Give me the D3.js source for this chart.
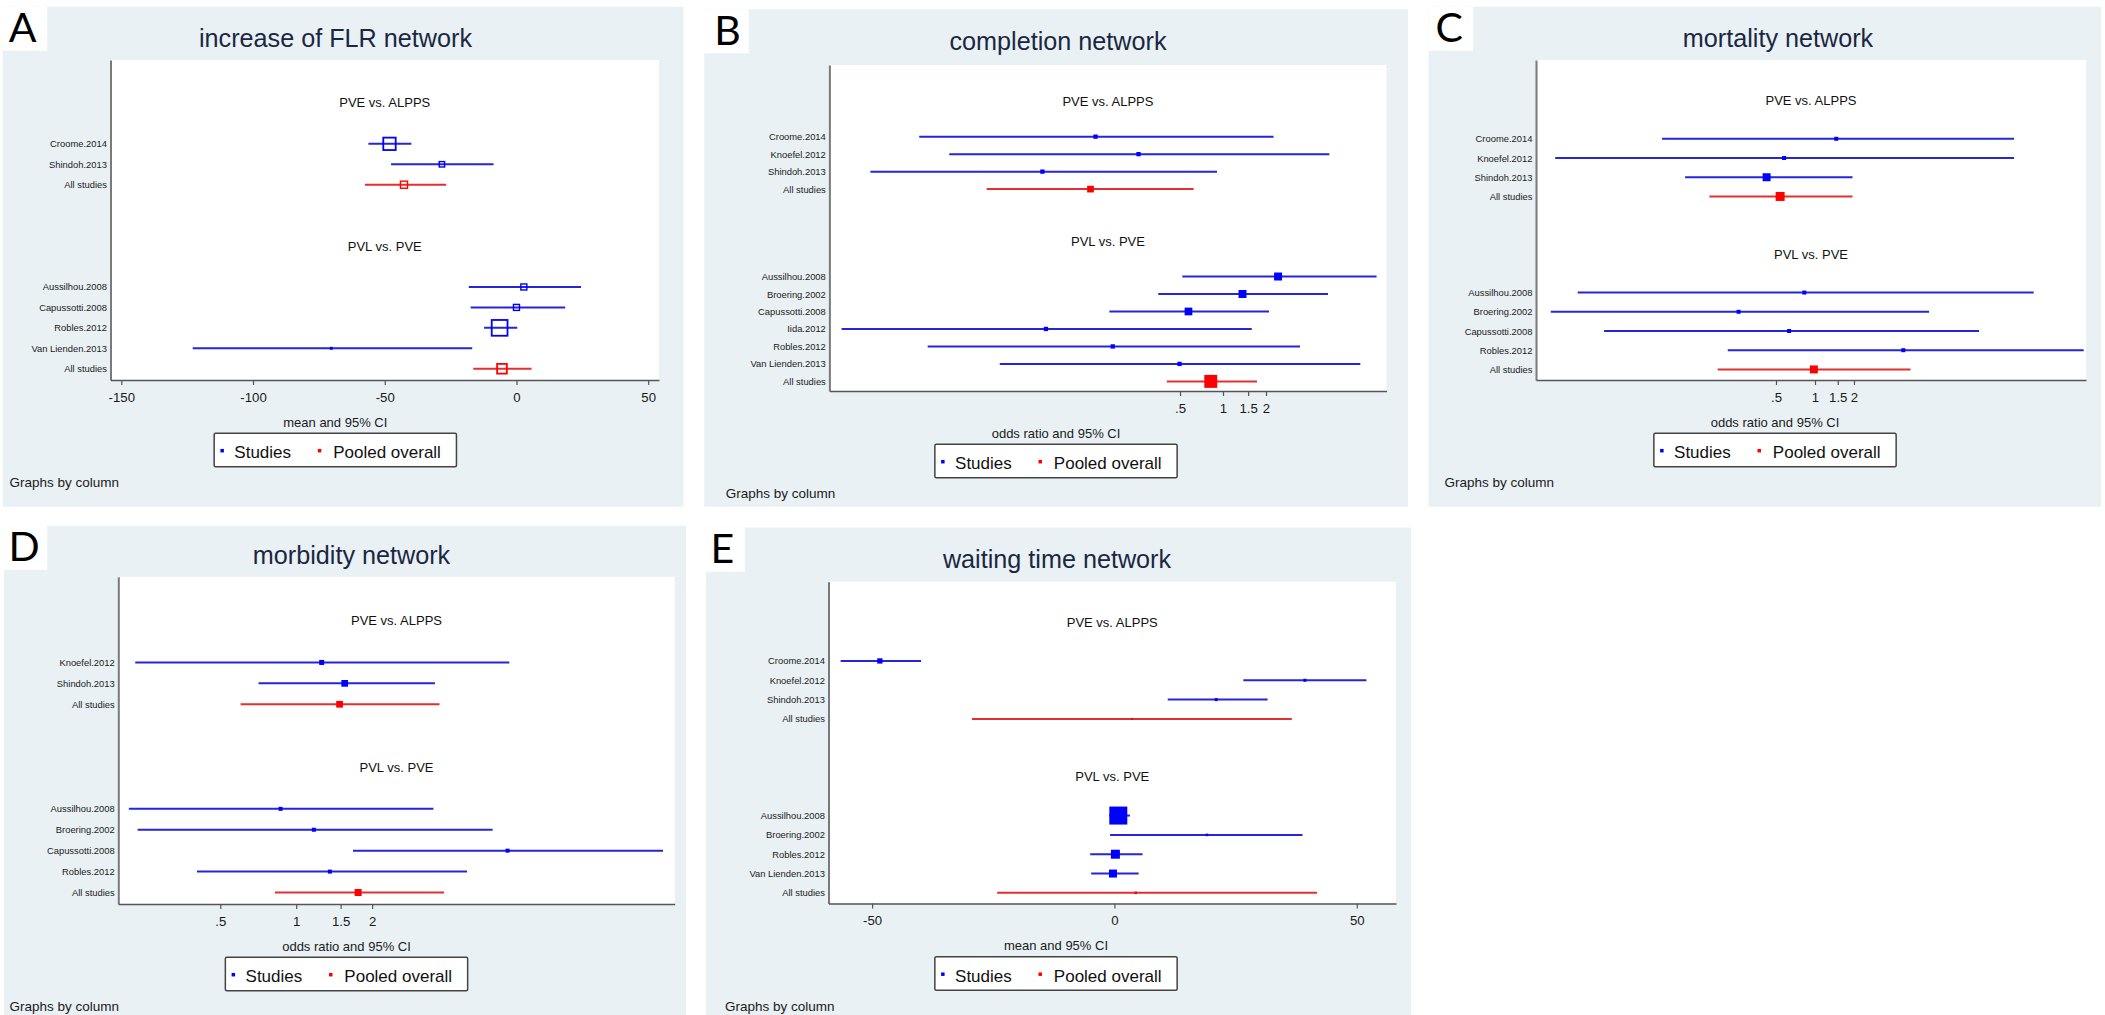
<!DOCTYPE html>
<html>
<head>
<meta charset="utf-8">
<script src="https://cdn.jsdelivr.net/npm/d3@7"></script>
<style>
html, body { margin: 0; padding: 0; background: #fff; }
svg { display: block; font-family: "Liberation Sans", Arial, sans-serif; }
</style>
</head>
<body>
<svg id="fig" width="2105" height="1015"></svg>
<script>
const groupNames = ["PVE vs. ALPPS", "PVL vs. PVE"];

// A - increase of FLR (mean difference)
const flrLabels = ["Croome.2014", "Shindoh.2013", "All studies", "Aussilhou.2008", "Capussotti.2008", "Robles.2012", "Van Lienden.2013", "All studies"];
const flrGroup = [0, 0, 0, 1, 1, 1, 1, 1];
const flrEst = [-48.2, -28.3, -42.7, 2.8, 0.0, -6.4, -70.3, -5.5];
const flrLo = [-56.2, -47.6, -57.5, -18.1, -17.4, -12.3, -122.9, -16.4];
const flrHi = [-39.9, -8.7, -26.7, 24.5, 18.5, 0.3, -16.8, 5.7];
const flrWeight = [70, 16, 25, 19, 19, 107, 3, 46];
const flrTicks = [-150, -100, -50, 0, 50];
const flrRange = [-154.1, 54.1];

// B - completion (odds ratio)
const compLabels = ["Croome.2014", "Knoefel.2012", "Shindoh.2013", "All studies", "Aussilhou.2008", "Broering.2002", "Capussotti.2008", "Iida.2012", "Robles.2012", "Van Lienden.2013", "All studies"];
const compGroup = [0, 0, 0, 0, 1, 1, 1, 1, 1, 1, 1];
const compEst = [0.128, 0.256, 0.0543, 0.118, 2.43, 1.37, 0.573, 0.0575, 0.169, 0.496, 0.821];
const compLo = [0.00745, 0.0121, 0.00339, 0.0221, 0.519, 0.352, 0.16, 0.00213, 0.00854, 0.0273, 0.404];
const compHi = [2.26, 5.56, 0.908, 0.622, 11.9, 5.44, 2.10, 1.59, 3.46, 9.16, 1.73];
const compWeight = [6.4, 6.4, 6.4, 15.5, 22, 22, 20.5, 6.4, 6.4, 6.4, 58];
const compRange = [0.00175, 13.97];

// C - mortality (odds ratio)
const mortLabels = ["Croome.2014", "Knoefel.2012", "Shindoh.2013", "All studies", "Aussilhou.2008", "Broering.2002", "Capussotti.2008", "Robles.2012", "All studies"];
const mortGroup = [0, 0, 0, 0, 1, 1, 1, 1, 1];
const mortEst = [1.46, 0.577, 0.423, 0.538, 0.827, 0.257, 0.631, 4.81, 0.98];
const mortLo = [0.0659, 0.00985, 0.0993, 0.153, 0.0147, 0.0091, 0.0235, 0.212, 0.177];
const mortHi = [34.5, 34.5, 1.95, 1.95, 48.9, 7.61, 18.5, 119, 5.47];
const mortWeight = [5.5, 5.5, 22, 28, 5.5, 5.5, 5.5, 5.5, 22];
const mortRange = [0.0070, 124];

// D - morbidity (odds ratio)
const morbLabels = ["Knoefel.2012", "Shindoh.2013", "All studies", "Aussilhou.2008", "Broering.2002", "Capussotti.2008", "Robles.2012", "All studies"];
const morbGroup = [0, 0, 0, 1, 1, 1, 1, 1];
const morbEst = [1.262, 1.557, 1.486, 0.867, 1.175, 6.89, 1.36, 1.76];
const morbLo = [0.23, 0.709, 0.602, 0.217, 0.235, 1.68, 0.404, 0.823];
const morbHi = [7.0, 3.55, 3.70, 3.5, 6.01, 28.5, 4.76, 3.86];
const morbWeight = [8.7, 15.5, 15.5, 5.5, 5.5, 5.5, 5.5, 17];
const morbRange = [0.197, 31.7];

// E - waiting time (mean difference)
const waitLabels = ["Croome.2014", "Knoefel.2012", "Shindoh.2013", "All studies", "Aussilhou.2008", "Broering.2002", "Robles.2012", "Van Lienden.2013", "All studies"];
const waitGroup = [0, 0, 0, 0, 1, 1, 1, 1, 1];
const waitEst = [-48.4, 39.3, 21.0, 3.6, 0.8, 19.1, 0.2, -0.3, 4.4];
const waitLo = [-56.5, 26.6, 11.0, -29.4, -1.1, -0.9, -5.0, -4.8, -24.2];
const waitHi = [-39.9, 52.0, 31.6, 36.6, 3.2, 38.8, 5.8, 5.0, 41.8];
const waitWeight = [9.7, 3.1, 3.1, 1.4, 112, 2.2, 28, 22, 2.2];
const waitTicks = [-50, 0, 50];
const waitRange = [-59.0, 58.1];

const orTicks = [0.5, 1, 1.5, 2];
const orTickLabels = [".5", "1", "1.5", "2"];

const BG = "#e9f1f4";
const BLUE_LINE = "#2626d6", BLUE = "#0000ff";
const RED_LINE = "#e23030", RED = "#ff0000";

const panels = [
    { letter: "A", title: "increase of FLR network", xlab: "mean and 95% CI", log: false, hollow: true,
      labels: flrLabels, group: flrGroup, est: flrEst, lo: flrLo, hi: flrHi, weight: flrWeight,
      range: flrRange, ticks: flrTicks, tickLabels: flrTicks.map(String),
      box: [2.7, 6.7, 680.7, 500], plot: { l: 110.5, t: 60, r: 659, b: 380 },
      titleX: 335.5, titleDy: 40, centerX: 335.3, byX: 9.5, letterDx: 6, boxW: 44.6 },
    { letter: "B", title: "completion network", xlab: "odds ratio and 95% CI", log: true,
      labels: compLabels, group: compGroup, est: compEst, lo: compLo, hi: compHi, weight: compWeight,
      range: compRange, ticks: orTicks, tickLabels: orTickLabels,
      box: [704.2, 9.3, 703.8, 497.4], plot: { l: 829.4, t: 65, r: 1386.5, b: 391 },
      titleX: 1058, titleDy: 40.5, centerX: 1056, byX: 725.8, letterDx: 10, boxW: 44.5 },
    { letter: "C", title: "mortality network", xlab: "odds ratio and 95% CI", log: true,
      labels: mortLabels, group: mortGroup, est: mortEst, lo: mortLo, hi: mortHi, weight: mortWeight,
      range: mortRange, ticks: orTicks, tickLabels: orTickLabels,
      box: [1428.5, 6.7, 672.5, 500], plot: { l: 1536, t: 60, r: 2086, b: 380 },
      titleX: 1778, titleDy: 40, centerX: 1775, byX: 1444.5, letterDx: 7, boxW: 44.8 },
    { letter: "D", title: "morbidity network", xlab: "odds ratio and 95% CI", log: true,
      labels: morbLabels, group: morbGroup, est: morbEst, lo: morbLo, hi: morbHi, weight: morbWeight,
      range: morbRange, ticks: orTicks, tickLabels: orTickLabels,
      box: [4, 525.7, 682.2, 489.3], plot: { l: 118.3, t: 576.7, r: 674.7, b: 904 },
      titleX: 351.5, titleDy: 38, centerX: 346.5, byX: 9.5, letterDx: 4.5, boxW: 43.3 },
    { letter: "E", title: "waiting time network", xlab: "mean and 95% CI", log: false,
      labels: waitLabels, group: waitGroup, est: waitEst, lo: waitLo, hi: waitHi, weight: waitWeight,
      range: waitRange, ticks: waitTicks, tickLabels: waitTicks.map(String),
      box: [706, 527.7, 705, 487.3], plot: { l: 828.5, t: 581.7, r: 1396, b: 903.5 },
      titleX: 1057, titleDy: 40.5, centerX: 1056, byX: 725, letterDx: 4.5, boxW: 39 }
];

const svg = d3.select("#fig");
const size = d3.scaleSqrt().domain([0, 100]).range([0, 17]);

// row index: group 0 starts at 0, next group starts 5 rows after the last one
const rowIndex = (group) => {
    const idx = [];
    let cur = 0;
    group.forEach((g, i) => {
        if (i > 0 && g !== group[i - 1]) cur += 5;
        else if (i > 0) cur += 1;
        idx.push(cur);
    });
    return idx;
};

const drawPanel = (p) => {
    const [bx, by, bw, bh] = p.box;
    const pl = p.plot;
    const g = svg.append("g").attr("class", "panel-" + p.letter);

    g.append("rect").attr("x", bx).attr("y", by).attr("width", bw).attr("height", bh).attr("fill", BG);
    g.append("rect").attr("x", bx).attr("y", by).attr("width", p.boxW).attr("height", 44).attr("fill", "#fff");
    g.append("text").attr("x", bx + p.letterDx).attr("y", by + 35.5)
        .attr("font-family", "Lato, 'Noto Sans', sans-serif").attr("font-size", 41).attr("fill", "#000")
        .text(p.letter);

    g.append("text").attr("x", p.titleX).attr("y", by + p.titleDy).attr("text-anchor", "middle")
        .attr("font-size", 25.2).attr("fill", "#1b2742").text(p.title);

    g.append("rect").attr("x", pl.l).attr("y", pl.t).attr("width", pl.r - pl.l).attr("height", pl.b - pl.t).attr("fill", "#fff");

    const idx = rowIndex(p.group);
    const last = idx[idx.length - 1];
    const y = d3.scaleLinear().domain([-4.1, last + 0.55]).range([pl.t, pl.b]);
    const x = (p.log ? d3.scaleLog() : d3.scaleLinear()).domain(p.range).range([pl.l, pl.r]);

    // group headers, two rows above each group's first study
    const firsts = idx.filter((v, i) => i === 0 || p.group[i] !== p.group[i - 1]);
    g.selectAll(".hdr").data(firsts).join("text")
        .attr("x", (pl.l + pl.r) / 2).attr("y", d => y(d - 2)).attr("dy", "0.35em")
        .attr("text-anchor", "middle").attr("font-size", 13).attr("fill", "#111")
        .text((d, i) => groupNames[i]);

    const rows = p.labels.map((lab, i) => ({
        lab, i: idx[i], est: p.est[i], lo: p.lo[i], hi: p.hi[i], w: p.weight[i], pooled: lab === "All studies"
    }));

    g.selectAll(".ci").data(rows).join("line")
        .attr("x1", d => x(d.lo)).attr("x2", d => x(d.hi))
        .attr("y1", d => y(d.i)).attr("y2", d => y(d.i))
        .attr("stroke", d => d.pooled ? RED_LINE : BLUE_LINE).attr("stroke-width", 2);

    g.selectAll(".mk").data(rows).join("rect")
        .each(function(d) {
            const s = size(d.w);
            const col = d.pooled ? RED : BLUE;
            const el = d3.select(this);
            if (p.hollow && s > 4) {
                const sw = s > 10 ? 1.8 : 1.4;
                el.attr("x", x(d.est) - s / 2 + sw / 2).attr("y", y(d.i) - s / 2 + sw / 2)
                    .attr("width", s - sw).attr("height", s - sw)
                    .attr("fill", "none").attr("stroke", col).attr("stroke-width", sw);
            } else {
                el.attr("x", x(d.est) - s / 2).attr("y", y(d.i) - s / 2)
                    .attr("width", s).attr("height", s).attr("fill", col);
            }
        });

    // study labels on the left axis
    const yAxis = d3.axisLeft(y).tickValues(idx).tickFormat((d, i) => p.labels[i])
        .tickSize(0).tickPadding(3.6).tickSizeOuter(0);
    const ya = g.append("g").attr("transform", `translate(${pl.l},0)`).call(yAxis);
    ya.select(".domain").attr("stroke", "#7a7a7a").attr("stroke-width", 2);
    ya.selectAll("text").attr("font-size", 9.4).attr("fill", "#1a1a1a").attr("font-family", "'Liberation Sans', Arial, sans-serif");

    const xAxis = d3.axisBottom(x).tickValues(p.ticks).tickFormat((d, i) => p.tickLabels[i])
        .tickSize(5).tickPadding(7.5).tickSizeOuter(0);
    const xa = g.append("g").attr("transform", `translate(0,${pl.b})`).call(xAxis);
    xa.select(".domain").attr("stroke", "#555").attr("stroke-width", 1.3);
    xa.selectAll(".tick line").attr("stroke", "#555").attr("stroke-width", 1.2);
    xa.selectAll("text").attr("font-size", 13.2).attr("fill", "#1a1a1a").attr("font-family", "'Liberation Sans', Arial, sans-serif");

    g.append("text").attr("x", p.centerX).attr("y", pl.b + 46.7).attr("text-anchor", "middle")
        .attr("font-size", 13).attr("fill", "#1a1a1a").text(p.xlab);

    // legend
    const lw = 242.3, lh = 33.4;
    const lx = p.centerX - lw / 2, ly = pl.b + 53.3;
    const lg = g.append("g").attr("transform", `translate(${lx},${ly})`);
    lg.append("rect").attr("width", lw).attr("height", lh).attr("rx", 1.5)
        .attr("fill", "#fff").attr("stroke", "#444").attr("stroke-width", 1.5);
    const items = [{ t: "Studies", c: BLUE, mx: 8, tx: 20.2 }, { t: "Pooled overall", c: RED, mx: 105.4, tx: 119 }];
    lg.selectAll(".lm").data(items).join("rect")
        .attr("x", d => d.mx - 1.75).attr("y", 17.4 - 1.75).attr("width", 3.5).attr("height", 3.5).attr("fill", d => d.c);
    lg.selectAll(".lt").data(items).join("text")
        .attr("x", d => d.tx).attr("y", 25).attr("font-size", 17).attr("fill", "#111").text(d => d.t);

    g.append("text").attr("x", p.byX).attr("y", pl.b + 107).attr("font-size", 13.5).attr("fill", "#1a1a1a")
        .text("Graphs by column");
};

panels.forEach(drawPanel);
</script>
</body>
</html>
